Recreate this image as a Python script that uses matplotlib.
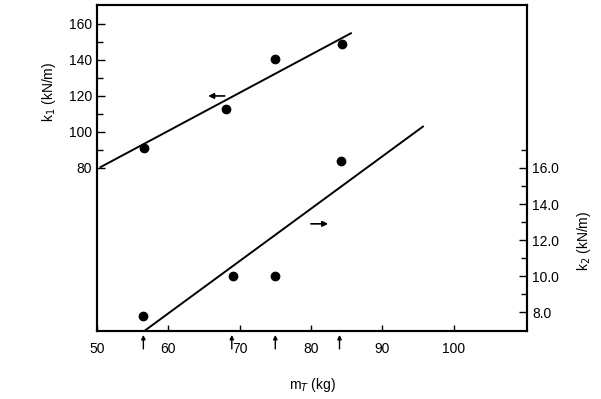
import matplotlib
matplotlib.use('Agg')
import matplotlib.pyplot as plt
from matplotlib.ticker import FixedLocator

plt.rcParams['font.family'] = ['Liberation Sans', 'DejaVu Sans']

# k1 measurements (left axis) and fitted line
m1 = [56.6, 68.1, 75.0, 84.3]
k1 = [91, 113, 140.5, 149]
k1_fit_m = [50.5, 85.6]
k1_fit_k = [80.5, 154.8]

# k2 measurements (right axis) and fitted line
m2 = [56.4, 69.1, 75.0, 84.2]
k2 = [7.8, 10.0, 10.0, 16.4]
k2_fit_m = [56.8, 95.7]
k2_fit_k = [7.0, 18.3]

# masses marked with arrows below the axis
marked_m = [56.5, 68.9, 75.0, 84.0]

x_ticks = [50, 60, 70, 80, 90, 100]
k1_ticks = [80, 100, 120, 140, 160]
k2_ticks = [8.0, 10.0, 12.0, 14.0, 16.0]

fig = plt.figure(figsize=(6.01, 3.99), dpi=100)
ax = fig.add_axes([0.1614, 0.1704, 0.7156, 0.8171])
ax2 = ax.twinx()

ax.plot(m1, k1, 'o', color='black', ms=6)
ax.plot(k1_fit_m, k1_fit_k, color='black', lw=1.4)
ax2.plot(m2, k2, 'o', color='black', ms=6)
ax2.plot(k2_fit_m, k2_fit_k, color='black', lw=1.4)

ax.set_xlim(50, 110.3)
ax.set_ylim(-10.5, 170.5)
ax2.set_ylim(6.95, 25.05)

ax.set_xticks(x_ticks)
ax.set_yticks(k1_ticks)
ax.yaxis.set_minor_locator(FixedLocator([90, 110, 130, 150]))
ax2.set_yticks(k2_ticks)
ax2.yaxis.set_minor_locator(FixedLocator([9, 11, 13, 15, 17]))
ax.set_yticklabels([str(t) for t in k1_ticks])
ax2.set_yticklabels(['%.1f' % t for t in k2_ticks])

ax.tick_params(axis='x', direction='in', length=4, width=1, labelsize=10, pad=8)
ax.tick_params(axis='y', which='major', direction='in', length=6, width=1, labelsize=10)
ax.tick_params(axis='y', which='minor', direction='in', length=4, width=1)
ax2.tick_params(axis='y', which='major', direction='in', length=6, width=1, labelsize=10)
ax2.tick_params(axis='y', which='minor', direction='in', length=4, width=1)

for a in (ax, ax2):
    for s in a.spines.values():
        s.set_linewidth(1.5)

# direction arrows showing which axis each line belongs to
ax.annotate('', xy=(65.2, 120), xytext=(68.3, 120),
            arrowprops=dict(arrowstyle='-|>', color='black', lw=1.2, mutation_scale=8))
ax2.annotate('', xy=(82.8, 12.9), xytext=(79.6, 12.9),
             arrowprops=dict(arrowstyle='-|>', color='black', lw=1.2, mutation_scale=8))

# small upward arrows under the axis at the tested masses
for m in marked_m:
    ax.annotate('', xy=(m, -0.012), xytext=(m, -0.055),
                xycoords=ax.get_xaxis_transform(), textcoords=ax.get_xaxis_transform(),
                arrowprops=dict(arrowstyle='-|>', color='black', lw=1.0, mutation_scale=6,
                                shrinkA=0, shrinkB=0),
                annotation_clip=False)

ax.set_xlabel('m$_T$ (kg)', fontsize=10, labelpad=14)
ax.set_ylabel('k$_1$ (kN/m)', fontsize=10)
ax.yaxis.set_label_coords(-0.09, 0.733)
ax2.set_ylabel('k$_2$ (kN/m)', fontsize=10)
ax2.yaxis.set_label_coords(1.112, 0.275)

fig.savefig('out.png', dpi=100)
